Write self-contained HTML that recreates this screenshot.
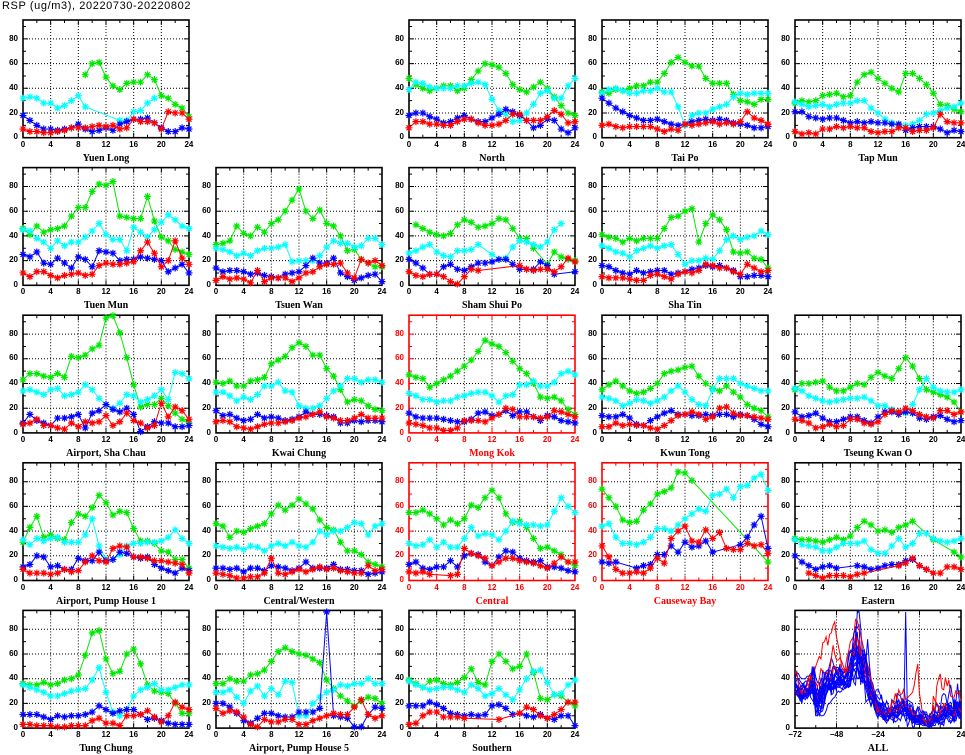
<!DOCTYPE html>
<html><head><meta charset="utf-8">
<style>
body{margin:0;background:#fff;width:965px;height:755px;overflow:hidden;position:relative;font-family:"Liberation Sans",sans-serif;}
#t{position:absolute;left:2px;top:0;font-size:11px;line-height:13px;letter-spacing:.6px;white-space:nowrap}
.xl,.yl,.tt{position:absolute;font-weight:bold;font-size:8px;line-height:10px;color:#000;white-space:nowrap}
.xl{display:flex}
.xl span{width:27.67px;text-align:center;display:block}
.xa span{width:41.5px}
.yl{width:20px;text-align:right}
.yl span{display:block;height:24.7px;line-height:24.7px}
.tt{font-family:"Liberation Serif",serif;font-size:10px;line-height:11px;width:200px;text-align:center}
.red{color:#f00}
svg{position:absolute;left:0;top:0}
</style></head><body>
<svg id="s" width="965" height="755" xmlns="http://www.w3.org/2000/svg"></svg>
<div id="t">RSP (ug/m3), 20220730-20220802</div>

<div class="yl" style="left:-2px;top:26.55px"><span>80</span><span>60</span><span>40</span><span>20</span><span>0</span></div>
<div class="xl" style="left:9.17px;top:139.7px"><span>0</span><span>4</span><span>8</span><span>12</span><span>16</span><span>20</span><span>24</span></div>
<div class="tt" style="left:6px;top:152.7px">Yuen Long</div>

<div class="yl" style="left:384px;top:26.55px"><span>80</span><span>60</span><span>40</span><span>20</span><span>0</span></div>
<div class="xl" style="left:395.17px;top:139.7px"><span>0</span><span>4</span><span>8</span><span>12</span><span>16</span><span>20</span><span>24</span></div>
<div class="tt" style="left:392px;top:152.7px">North</div>

<div class="yl" style="left:577px;top:26.55px"><span>80</span><span>60</span><span>40</span><span>20</span><span>0</span></div>
<div class="xl" style="left:588.17px;top:139.7px"><span>0</span><span>4</span><span>8</span><span>12</span><span>16</span><span>20</span><span>24</span></div>
<div class="tt" style="left:585px;top:152.7px">Tai Po</div>

<div class="yl" style="left:770px;top:26.55px"><span>80</span><span>60</span><span>40</span><span>20</span><span>0</span></div>
<div class="xl" style="left:781.17px;top:139.7px"><span>0</span><span>4</span><span>8</span><span>12</span><span>16</span><span>20</span><span>24</span></div>
<div class="tt" style="left:778px;top:152.7px">Tap Mun</div>

<div class="yl" style="left:-2px;top:174.15px"><span>80</span><span>60</span><span>40</span><span>20</span><span>0</span></div>
<div class="xl" style="left:9.17px;top:287.3px"><span>0</span><span>4</span><span>8</span><span>12</span><span>16</span><span>20</span><span>24</span></div>
<div class="tt" style="left:6px;top:300.3px">Tuen Mun</div>

<div class="yl" style="left:191px;top:174.15px"><span>80</span><span>60</span><span>40</span><span>20</span><span>0</span></div>
<div class="xl" style="left:202.17px;top:287.3px"><span>0</span><span>4</span><span>8</span><span>12</span><span>16</span><span>20</span><span>24</span></div>
<div class="tt" style="left:199px;top:300.3px">Tsuen Wan</div>

<div class="yl" style="left:384px;top:174.15px"><span>80</span><span>60</span><span>40</span><span>20</span><span>0</span></div>
<div class="xl" style="left:395.17px;top:287.3px"><span>0</span><span>4</span><span>8</span><span>12</span><span>16</span><span>20</span><span>24</span></div>
<div class="tt" style="left:392px;top:300.3px">Sham Shui Po</div>

<div class="yl" style="left:577px;top:174.15px"><span>80</span><span>60</span><span>40</span><span>20</span><span>0</span></div>
<div class="xl" style="left:588.17px;top:287.3px"><span>0</span><span>4</span><span>8</span><span>12</span><span>16</span><span>20</span><span>24</span></div>
<div class="tt" style="left:585px;top:300.3px">Sha Tin</div>

<div class="yl" style="left:-2px;top:321.75px"><span>80</span><span>60</span><span>40</span><span>20</span><span>0</span></div>
<div class="xl" style="left:9.17px;top:434.9px"><span>0</span><span>4</span><span>8</span><span>12</span><span>16</span><span>20</span><span>24</span></div>
<div class="tt" style="left:6px;top:447.9px">Airport, Sha Chau</div>

<div class="yl" style="left:191px;top:321.75px"><span>80</span><span>60</span><span>40</span><span>20</span><span>0</span></div>
<div class="xl" style="left:202.17px;top:434.9px"><span>0</span><span>4</span><span>8</span><span>12</span><span>16</span><span>20</span><span>24</span></div>
<div class="tt" style="left:199px;top:447.9px">Kwai Chung</div>

<div class="yl red" style="left:384px;top:321.75px"><span>80</span><span>60</span><span>40</span><span>20</span><span>0</span></div>
<div class="xl red" style="left:395.17px;top:434.9px"><span>0</span><span>4</span><span>8</span><span>12</span><span>16</span><span>20</span><span>24</span></div>
<div class="tt red" style="left:392px;top:447.9px">Mong Kok</div>

<div class="yl" style="left:577px;top:321.75px"><span>80</span><span>60</span><span>40</span><span>20</span><span>0</span></div>
<div class="xl" style="left:588.17px;top:434.9px"><span>0</span><span>4</span><span>8</span><span>12</span><span>16</span><span>20</span><span>24</span></div>
<div class="tt" style="left:585px;top:447.9px">Kwun Tong</div>

<div class="yl" style="left:770px;top:321.75px"><span>80</span><span>60</span><span>40</span><span>20</span><span>0</span></div>
<div class="xl" style="left:781.17px;top:434.9px"><span>0</span><span>4</span><span>8</span><span>12</span><span>16</span><span>20</span><span>24</span></div>
<div class="tt" style="left:778px;top:447.9px">Tseung Kwan O</div>

<div class="yl" style="left:-2px;top:469.35px"><span>80</span><span>60</span><span>40</span><span>20</span><span>0</span></div>
<div class="xl" style="left:9.17px;top:582.5px"><span>0</span><span>4</span><span>8</span><span>12</span><span>16</span><span>20</span><span>24</span></div>
<div class="tt" style="left:6px;top:595.5px">Airport, Pump House 1</div>

<div class="yl" style="left:191px;top:469.35px"><span>80</span><span>60</span><span>40</span><span>20</span><span>0</span></div>
<div class="xl" style="left:202.17px;top:582.5px"><span>0</span><span>4</span><span>8</span><span>12</span><span>16</span><span>20</span><span>24</span></div>
<div class="tt" style="left:199px;top:595.5px">Central/Western</div>

<div class="yl red" style="left:384px;top:469.35px"><span>80</span><span>60</span><span>40</span><span>20</span><span>0</span></div>
<div class="xl red" style="left:395.17px;top:582.5px"><span>0</span><span>4</span><span>8</span><span>12</span><span>16</span><span>20</span><span>24</span></div>
<div class="tt red" style="left:392px;top:595.5px">Central</div>

<div class="yl red" style="left:577px;top:469.35px"><span>80</span><span>60</span><span>40</span><span>20</span><span>0</span></div>
<div class="xl red" style="left:588.17px;top:582.5px"><span>0</span><span>4</span><span>8</span><span>12</span><span>16</span><span>20</span><span>24</span></div>
<div class="tt red" style="left:585px;top:595.5px">Causeway Bay</div>

<div class="yl" style="left:770px;top:469.35px"><span>80</span><span>60</span><span>40</span><span>20</span><span>0</span></div>
<div class="xl" style="left:781.17px;top:582.5px"><span>0</span><span>4</span><span>8</span><span>12</span><span>16</span><span>20</span><span>24</span></div>
<div class="tt" style="left:778px;top:595.5px">Eastern</div>

<div class="yl" style="left:-2px;top:616.95px"><span>80</span><span>60</span><span>40</span><span>20</span><span>0</span></div>
<div class="xl" style="left:9.17px;top:730.1px"><span>0</span><span>4</span><span>8</span><span>12</span><span>16</span><span>20</span><span>24</span></div>
<div class="tt" style="left:6px;top:743.1px">Tung Chung</div>

<div class="yl" style="left:191px;top:616.95px"><span>80</span><span>60</span><span>40</span><span>20</span><span>0</span></div>
<div class="xl" style="left:202.17px;top:730.1px"><span>0</span><span>4</span><span>8</span><span>12</span><span>16</span><span>20</span><span>24</span></div>
<div class="tt" style="left:199px;top:743.1px">Airport, Pump House 5</div>

<div class="yl" style="left:384px;top:616.95px"><span>80</span><span>60</span><span>40</span><span>20</span><span>0</span></div>
<div class="xl" style="left:395.17px;top:730.1px"><span>0</span><span>4</span><span>8</span><span>12</span><span>16</span><span>20</span><span>24</span></div>
<div class="tt" style="left:392px;top:743.1px">Southern</div>

<div class="yl" style="left:770px;top:616.95px"><span>80</span><span>60</span><span>40</span><span>20</span><span>0</span></div>
<div class="xl xa" style="left:774.25px;top:730.1px"><span>−72</span><span>−48</span><span>−24</span><span>0</span><span>24</span></div>
<div class="tt" style="left:778px;top:743.1px">ALL</div>

<script>
var D=[
['Yuen Long',0,0,0,
[-1,-1,-1,-1,-1,-1,-1,-1,-1,51,60,61,49,42,39,44,45,45,51,47,34,32,27,24,17],
[32,33,32,28,28,24,26,30,34,25,-1,-1,-1,-1,14,14,21,22,28,32,-1,-1,-1,-1,-1],
[18,14,10,7,7,6,7,8,11,7,5,6,8,6,11,13,15,15,16,12,8,5,5,8,7],
[7,5,5,4,4,5,6,8,8,8,9,10,9,10,7,8,15,13,13,12,7,21,20,20,15]],
['North',0,2,0,
[48,43,40,38,40,42,42,38,40,47,54,60,59,57,52,43,39,37,41,45,40,33,26,20,18],
[39,45,44,41,40,40,40,42,42,44,45,43,31,22,19,13,14,20,27,36,38,32,32,42,48],
[18,20,20,17,15,12,13,16,18,15,13,13,16,19,23,21,18,14,8,10,15,14,7,4,8],
[8,13,13,11,11,10,10,13,15,15,12,10,10,11,14,19,19,14,14,14,17,22,19,12,13]],
['Tai Po',0,3,0,
[37,36,39,38,40,42,42,45,45,52,61,65,61,58,58,48,44,44,44,35,30,29,27,31,31],
[36,39,40,38,36,36,38,38,40,37,37,25,10,18,20,20,23,25,27,33,36,35,36,36,36],
[32,28,24,21,18,16,14,14,15,13,11,10,11,13,14,15,14,15,14,12,11,10,8,8,9],
[10,11,9,8,9,9,9,9,7,5,7,6,11,10,11,12,13,11,12,11,13,21,16,14,11]],
['Tap Mun',0,4,0,
[28,30,29,30,34,35,36,33,34,45,51,53,48,44,40,37,52,52,48,43,36,27,26,23,21],
[29,27,25,26,27,25,27,28,28,30,30,24,20,15,12,10,10,11,14,19,20,22,24,25,28],
[21,21,17,16,15,16,16,14,12,13,12,13,12,12,11,11,6,8,9,9,9,7,4,6,5],
[5,3,4,3,7,7,9,8,9,8,8,5,4,5,5,8,8,5,6,6,8,19,13,12,12]],
['Tuen Mun',1,0,0,
[46,41,48,43,45,46,48,56,63,63,76,82,81,84,56,55,54,54,72,52,39,36,29,27,25],
[45,44,38,35,30,36,32,35,35,39,44,50,41,37,37,28,47,43,39,45,51,57,53,48,46],
[25,23,27,18,17,22,18,14,23,21,15,28,27,26,20,21,21,23,22,21,20,11,14,17,10],
[10,7,11,11,8,6,8,9,10,8,9,16,18,17,17,18,19,28,35,26,15,20,36,22,17]],
['Tsuen Wan',1,1,0,
[33,34,36,48,42,40,47,43,50,53,60,69,78,60,54,61,50,48,40,28,29,21,18,15,15],
[30,29,27,24,26,24,28,30,30,31,33,19,20,20,20,24,31,36,34,34,31,32,38,38,33],
[14,11,12,12,11,9,10,8,7,6,9,10,11,16,22,18,18,22,10,7,4,6,8,9,3],
[4,7,5,6,5,2,12,3,6,6,6,3,6,10,11,15,17,17,18,10,6,21,18,20,16]],
['Sham Shui Po',1,2,0,
[-1,49,46,43,41,40,42,49,53,51,47,48,50,54,53,46,38,38,30,-1,17,27,23,21,20],
[26,28,31,33,27,24,23,28,28,29,33,-1,25,21,22,31,36,35,33,31,35,45,50,-1,-1],
[21,18,14,9,9,15,17,13,12,15,18,18,19,21,21,17,13,13,13,19,16,9,-1,-1,11],
[11,8,7,9,9,7,3,1,7,13,12,-1,-1,-1,-1,-1,16,13,12,13,13,11,15,22,19]],
['Sha Tin',1,3,0,
[41,39,38,35,38,36,38,38,38,46,55,56,60,62,35,50,57,53,45,27,26,27,22,21,14],
[32,30,27,26,23,28,30,32,30,32,33,25,17,20,20,22,21,28,37,40,37,39,40,44,41],
[16,15,12,10,9,12,10,11,12,12,9,10,11,13,14,16,15,16,14,12,7,7,8,8,7],
[7,6,6,6,5,4,4,8,9,7,5,9,11,10,12,17,16,14,14,11,9,17,14,11,12]],
['Airport, Sha Chau',2,0,0,
[43,48,48,46,45,48,45,62,61,63,68,71,93,95,81,61,39,21,23,23,28,22,16,11,8],
[34,35,33,31,35,36,30,31,33,39,35,28,23,20,24,31,30,25,27,30,35,27,49,48,44],
[8,15,10,8,6,12,12,13,15,4,16,18,23,19,17,20,15,1,5,9,8,8,5,5,6],
[7,8,11,6,6,4,3,8,5,9,8,9,14,6,9,16,10,8,4,6,24,13,21,18,11]],
['Kwai Chung',2,1,0,
[41,40,42,38,38,42,43,45,56,59,62,69,73,70,63,63,52,46,35,25,27,26,22,19,18],
[33,33,30,26,29,27,31,38,38,41,34,33,22,20,20,22,28,34,38,44,44,41,43,43,41],
[18,14,15,12,10,11,15,12,13,12,10,11,13,17,15,15,14,13,8,8,10,9,10,10,9],
[9,10,9,5,4,3,5,7,8,8,9,10,12,13,15,17,13,12,10,10,12,15,12,12,12]],
['Mong Kok',2,2,1,
[47,45,44,37,40,43,46,50,54,59,66,75,72,70,65,58,52,48,40,29,28,29,26,19,15],
[32,30,27,27,25,26,26,29,30,32,33,33,30,25,30,31,39,39,42,38,38,41,48,50,47],
[16,13,12,12,12,11,10,9,9,11,16,17,14,15,18,14,17,17,13,10,14,13,10,9,8],
[8,7,6,4,4,2,2,4,10,10,10,9,12,15,20,19,13,13,13,12,13,18,17,15,13]],
['Kwun Tong',2,3,0,
[35,39,42,38,34,32,33,36,40,48,50,51,53,54,46,40,36,34,38,33,29,23,20,18,13],
[29,28,26,22,24,27,26,24,26,29,34,38,33,27,23,22,35,44,44,44,40,38,36,34,34],
[14,13,13,15,12,7,6,10,13,16,18,15,15,14,14,15,14,15,15,13,15,14,11,7,5],
[5,5,8,6,7,6,6,4,3,6,10,14,15,17,15,11,13,20,21,16,14,14,13,12,11]],
['Tseung Kwan O',2,4,0,
[35,40,40,41,42,37,34,34,37,40,39,45,49,46,44,52,61,54,44,35,33,31,29,25,17],
[36,34,30,28,26,25,26,27,28,28,29,26,22,22,19,17,16,23,35,44,37,34,33,33,35],
[17,13,14,16,12,9,9,11,13,13,10,8,13,17,17,15,17,16,12,11,13,14,11,9,10],
[11,10,8,4,5,7,5,6,11,11,8,7,9,15,18,17,20,18,15,13,12,18,18,15,17]],
['Airport, Pump House 1',3,0,0,
[31,43,52,35,37,34,33,47,54,52,59,69,63,53,56,55,42,32,32,30,24,23,17,17,10],
[33,29,34,32,34,35,31,31,31,37,50,28,17,17,21,28,30,30,31,31,32,35,41,34,30],
[11,13,20,19,11,12,9,9,18,16,16,23,16,17,23,22,19,18,19,13,10,8,6,10,8],
[9,6,6,6,5,6,9,7,8,15,20,16,15,26,28,27,19,19,18,16,16,15,14,13,6]],
['Central/Western',3,1,0,
[46,44,35,40,39,42,44,46,54,61,57,61,66,62,58,49,43,41,31,24,24,21,15,13,11],
[28,27,26,27,25,28,27,24,28,30,28,31,28,27,31,40,37,40,40,43,47,46,37,44,46],
[10,10,9,10,7,10,10,8,12,11,10,8,10,15,10,10,10,13,9,9,8,8,5,6,7],
[6,5,4,2,2,3,3,6,18,6,5,7,9,7,9,11,9,10,8,7,6,6,12,8,9]],
['Central',3,2,1,
[55,55,57,54,50,45,49,46,50,61,59,67,73,67,54,47,48,43,34,26,27,24,21,15,12],
[30,28,29,33,27,31,27,27,34,43,36,38,37,33,40,48,46,45,45,44,45,56,67,60,55],
[13,15,10,9,11,11,16,11,20,22,21,15,12,19,24,23,18,16,15,16,11,11,10,8,7],
[7,6,7,5,-1,-1,4,5,26,22,20,18,12,15,18,18,16,15,14,12,10,14,19,15,15]],
['Causeway Bay',3,3,1,
[74,67,60,49,47,48,57,62,70,72,75,88,87,81,-1,-1,-1,-1,-1,-1,-1,-1,-1,-1,15],
[44,46,35,30,30,29,31,35,42,42,40,45,50,54,58,56,69,70,74,67,76,77,83,86,73],
[15,14,15,-1,-1,10,12,13,21,21,28,23,31,27,28,32,23,-1,-1,-1,29,35,45,52,26],
[28,19,9,6,6,7,6,10,18,14,34,40,44,32,31,41,34,39,26,25,25,30,28,29,22]],
['Eastern',3,4,0,
[34,33,33,32,31,33,35,33,36,43,48,45,40,41,39,43,45,48,-1,-1,33,-1,-1,23,19],
[33,29,28,27,24,24,27,30,30,30,32,25,22,22,28,34,27,30,38,38,34,32,31,32,34],
[20,15,12,9,11,12,10,-1,-1,12,11,9,10,12,13,13,16,17,12,9,-1,-1,-1,-1,-1],
[-1,-1,6,4,2,4,4,4,3,5,6,-1,-1,-1,-1,12,14,18,12,9,6,6,11,11,9]],
['Tung Chung',4,0,0,
[36,35,35,37,35,36,39,40,43,59,77,79,56,44,46,60,64,52,35,30,29,28,20,12,12],
[35,33,31,29,26,26,28,30,31,32,39,49,29,13,10,15,26,31,33,36,31,31,33,35,35],
[11,11,11,9,7,10,9,10,10,11,13,18,15,12,14,15,15,11,7,8,6,4,3,3,3],
[3,3,2,2,2,1,1,2,2,2,6,8,4,4,2,10,10,11,14,9,5,10,21,17,15]],
['Airport, Pump House 5',4,1,0,
[36,36,40,38,38,43,44,47,54,62,65,62,60,59,56,53,39,32,26,22,18,22,25,24,20],
[29,29,31,25,20,30,34,26,32,27,38,37,10,10,20,25,29,31,35,34,36,36,40,36,36],
[20,20,17,12,6,4,8,12,12,10,9,9,13,13,13,16,94,10,9,8,1,1,11,17,16],
[16,12,14,13,9,3,1,7,5,5,7,7,3,3,6,8,10,12,11,11,17,23,11,8,10]],
['Southern',4,2,0,
[39,36,33,38,39,36,35,37,41,48,37,35,54,60,54,48,50,60,45,24,23,27,26,21,18],
[38,35,33,31,32,33,33,31,29,35,32,26,28,32,27,23,31,40,46,47,37,27,28,35,39],
[18,18,18,21,19,16,12,11,10,11,10,11,18,19,16,11,12,10,9,11,8,7,10,10,2],
[3,4,10,13,13,9,9,9,8,-1,-1,-1,-1,7,-1,-1,12,17,15,10,8,11,15,21,21]]
];
var X0=[23,216,409,602,795],YB=[137.7,285.3,432.9,580.5,728.1];
var W=166,H=117.7,K=1.235;
function f(n){return n.toFixed(2);}
function axes(x0,yb,col,xmin,xmax,maj,mnr){
 var sx=function(v){return x0+(v-xmin)/(xmax-xmin)*W;};
 var g='',t='',v,x,y,L;
 for(v=xmin+maj;v<xmax-1e-9;v+=maj){x=f(sx(v));g+='M'+x+' '+f(yb-H)+'V'+yb;}
 for(v=20;v<=80;v+=20){y=f(yb-v*K);g+='M'+x0+' '+y+'H'+(x0+W);}
 for(v=xmin;v<=xmax+1e-9;v+=mnr){x=f(sx(v));L=((v-xmin)%maj===0)?5:3;t+='M'+x+' '+yb+'v'+(-L)+'M'+x+' '+f(yb-H)+'v'+L;}
 for(v=0;v<=95;v+=10){y=f(yb-v*K);L=(v%20===0)?5:3;t+='M'+x0+' '+y+'h'+L+'M'+(x0+W)+' '+y+'h'+(-L);}
 return '<path d="'+g+'" stroke="#000" stroke-width="1" stroke-dasharray="1 2" fill="none"/>'+
  '<path d="'+t+'" stroke="'+col+'" stroke-width="1" fill="none"/>'+
  '<rect x="'+x0+'" y="'+f(yb-H)+'" width="'+W+'" height="'+H+'" fill="none" stroke="'+col+'" stroke-width="1.6"/>';
}
function series(x0,yb,arr,col){
 var pts=[],m='';
 arr.forEach(function(v,h){
  if(v<0)return;
  var x=x0+h*W/24,y=yb-v*K;
  pts.push(f(x)+','+f(y));
  m+='M'+f(x-3.5)+' '+f(y)+'h7M'+f(x)+' '+f(y-3.5)+'v7M'+f(x-2.5)+' '+f(y-2.5)+'l5 5M'+f(x-2.5)+' '+f(y+2.5)+'l5 -5';
 });
 return '<polyline points="'+pts.join(' ')+'" fill="none" stroke="'+col+'" stroke-width="1"/>'+
  '<path d="'+m+'" fill="none" stroke="'+col+'" stroke-width="1.2"/>';
}
var out='';
var COLS=['#00e800','#00ffff','#0000ff','#ff0000'];
D.forEach(function(p){
 var x0=X0[p[2]],yb=YB[p[1]],col=p[3]?'#f00':'#000';
 out+=axes(x0,yb,col,0,24,4,2);
 out+=series(x0,yb,p[4],COLS[0]);
 out+=series(x0,yb,p[5],COLS[1]);
 out+=series(x0,yb,p[6],COLS[2]);
 out+=series(x0,yb,p[7],COLS[3]);
});
var ax0=795,ayb=728.1;
out+=axes(ax0,ayb,'#000',-72,24,24,12);
D.forEach(function(p){
 var col=p[3]?'#ff0000':'#0000ff',pts=[];
 [[5,-72],[4,-48],[6,-24],[7,0]].forEach(function(q){
  p[q[0]].forEach(function(v,h){
   if(v<0)return;
   var x=ax0+(h+q[1]+72)/96*W,y=ayb-v*K;
   pts.push(f(x)+','+f(y));
  });
 });
 out+='<polyline points="'+pts.join(' ')+'" fill="none" stroke="'+col+'" stroke-width="1"/>';
});
document.getElementById('s').innerHTML=out;
</script>
</body></html>
